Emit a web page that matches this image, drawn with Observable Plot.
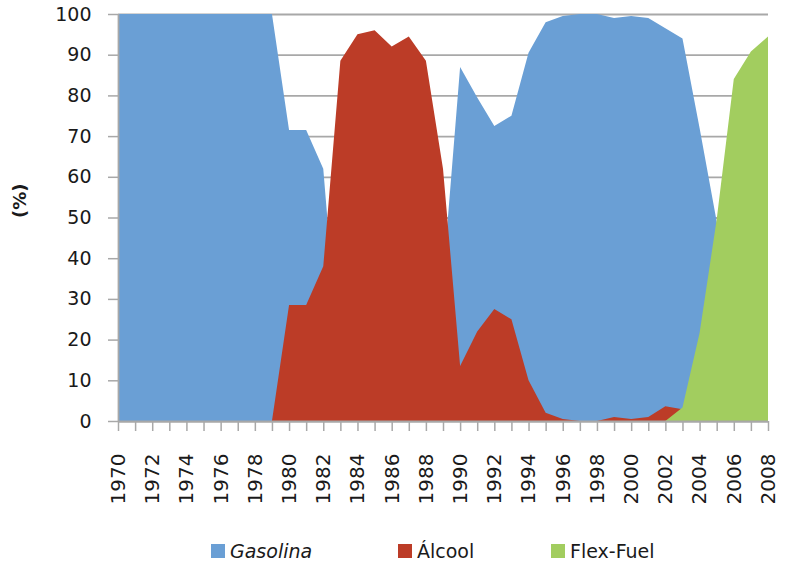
<!DOCTYPE html>
<html>
<head>
<meta charset="utf-8">
<script src="https://cdn.jsdelivr.net/npm/d3@7"></script>
<script src="https://cdn.jsdelivr.net/npm/@observablehq/plot@0.6"></script>
<style>
  html, body { margin: 0; padding: 0; background: #fff; }
  #wrap { position: relative; width: 788px; height: 569px; font-family: "DejaVu Sans", sans-serif; color: #1a1a1a; }
  .leg { position: absolute; top: 540px; height: 22px; display: flex; align-items: center; font-size: 19px; }
  .sw { width: 14px; height: 14px; margin-right: 5px; }
</style>
</head>
<body>
<div id="wrap"></div>
<script>
const years = [1970,1971,1972,1973,1974,1975,1976,1977,1978,1979,
  1980,1981,1982,1983,1984,1985,1986,1987,1988,1989,
  1990,1991,1992,1993,1994,1995,1996,1997,1998,1999,
  2000,2001,2002,2003,2004,2005,2006,2007,2008];
const gasolina = [100,100,100,100,100,100,100,100,100,100,
  71.5,71.5,62,11,5,4,8,5,11,35,
  87,79.5,72.5,75,90.5,98,99.5,100,100,99,
  99.5,99,96.5,94,72,49,16,9,5];
const alcool = [0,0,0,0,0,0,0,0,0,0,
  28.5,28.5,38,88.5,95,96,92,94.5,88.5,62,
  13.5,22,27.5,25,10,2,0.5,0,0,1,
  0.5,1,3.6,2.9,0,0,0,0,0];
const flex = [0,0,0,0,0,0,0,0,0,0,
  0,0,0,0,0,0,0,0,0,0,
  0,0,0,0,0,0,0,0,0,0,
  0,0,0,3.3,21.6,49.5,84,90.8,94.5];
const yTicks = [0,10,20,30,40,50,60,70,80,90,100];
const seriesNames = ["Gasolina", "Álcool", "Flex-Fuel"];
const colors = ["#6a9fd5", "#bc3c27", "#a2cd5f"];

const data = years.map((year, i) => ({year, gasolina: gasolina[i], alcool: alcool[i], flex: flex[i]}));
const gridColor = "#a8a8a8";

const chart = Plot.plot({
  width: 788,
  height: 520,
  marginTop: 14,
  marginBottom: 99,
  marginLeft: 118,
  marginRight: 20,
  x: {domain: [1970, 2008]},
  y: {domain: [0, 100]},
  style: {fontFamily: "DejaVu Sans, sans-serif", fontSize: "19px", color: "#1a1a1a", background: "white"},
  marks: [
    Plot.gridY(yTicks, {stroke: gridColor, strokeOpacity: 1, strokeWidth: 1.8}),
    Plot.areaY(data, {x: "year", y: "gasolina", fill: colors[0]}),
    Plot.areaY(data, {x: "year", y: "alcool", fill: colors[1]}),
    Plot.areaY(data, {x: "year", y: "flex", fill: colors[2]}),
    Plot.ruleX([1970], {stroke: gridColor, strokeWidth: 1.8}),
    Plot.ruleY([0], {stroke: gridColor, strokeWidth: 1.8}),
    Plot.axisY(yTicks, {tickSize: 10, tickPadding: 17, stroke: gridColor, strokeOpacity: 1, strokeWidth: 1.5, label: null}),
    Plot.axisX(years, {tickSize: 10, tickPadding: 22, tickRotate: -90, stroke: gridColor, strokeOpacity: 1, strokeWidth: 1.5, label: null,
      fontSize: 20, tickFormat: d => d % 2 === 0 ? String(d) : ""}),
    Plot.text(["(%)"], {frameAnchor: "left", dx: -98, rotate: -90, fontWeight: "bold", fontSize: 18})
  ]
});

const wrap = document.getElementById("wrap");
wrap.appendChild(chart);

const legendX = [211, 398, 551];
seriesNames.forEach((name, i) => {
  const item = document.createElement("div");
  item.className = "leg";
  item.style.left = legendX[i] + "px";
  const sw = document.createElement("div");
  sw.className = "sw";
  sw.style.background = colors[i];
  const label = document.createElement("span");
  label.textContent = name;
  if (i === 0) label.style.fontStyle = "italic";
  item.appendChild(sw);
  item.appendChild(label);
  wrap.appendChild(item);
});
</script>
</body>
</html>
